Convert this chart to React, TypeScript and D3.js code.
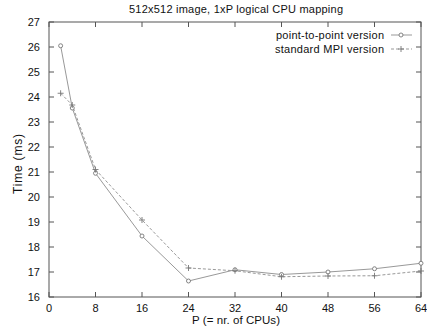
import React from "react";
import * as d3 from "d3";

const procs = [2, 4, 8, 16, 24, 32, 40, 48, 56, 64];
const pointToPoint = [26.05, 23.56, 20.95, 18.44, 16.64, 17.09, 16.9, 17.0, 17.13, 17.35];
const standardMPI = [24.15, 23.68, 21.1, 19.08, 17.16, 17.05, 16.81, 16.84, 16.85, 17.04];
const xTicks = [0, 8, 16, 24, 32, 40, 48, 56, 64];
const yTicks = [16, 17, 18, 19, 20, 21, 22, 23, 24, 25, 26, 27];
const seriesNames = ["point-to-point version", "standard MPI version"];
const title = "512x512 image, 1xP logical CPU mapping";

const W = 427, H = 330;
const m = { l: 49, r: 421, t: 22, b: 297 };

export default function App() {
  const x = d3.scaleLinear().domain([0, 64]).range([m.l, m.r]);
  const y = d3.scaleLinear().domain([16, 27]).range([m.b, m.t]);
  const line = d3.line<number>().x((_, i) => x(procs[i])).y((d) => y(d));
  const font = "'Liberation Sans', Arial, Helvetica, sans-serif";
  const axisColor = "#555";
  const lineColor = "#999";
  const markColor = "#777";
  const tl = 5;
  return (
    <svg width={W} height={H} style={{ position: "absolute", left: 0, top: 0, background: "#fff" }} fontFamily={font}>
      <rect x={m.l} y={m.t} width={m.r - m.l} height={m.b - m.t} fill="none" stroke={axisColor} strokeWidth={1} />
      {xTicks.map((t) => (
        <g key={"x" + t}>
          <line x1={x(t)} x2={x(t)} y1={m.b} y2={m.b - tl} stroke={axisColor} />
          <line x1={x(t)} x2={x(t)} y1={m.t} y2={m.t + tl} stroke={axisColor} />
          <text x={x(t)} y={m.b + 15} fontSize={11} textAnchor="middle" fill="#111">{t}</text>
        </g>
      ))}
      {yTicks.map((t) => (
        <g key={"y" + t}>
          <line x1={m.l} x2={m.l + tl} y1={y(t)} y2={y(t)} stroke={axisColor} />
          <line x1={m.r} x2={m.r - tl} y1={y(t)} y2={y(t)} stroke={axisColor} />
          <text x={m.l - 9} y={y(t) + 4} fontSize={11} textAnchor="end" fill="#111">{t}</text>
        </g>
      ))}
      <text x={236} y={13} fontSize={11} textAnchor="middle" fill="#111" textLength={214} lengthAdjust="spacing">{title}</text>
      <text x={236} y={324} fontSize={11.5} textAnchor="middle" fill="#111" textLength={88} lengthAdjust="spacing">P (= nr. of CPUs)</text>
      <text transform={`translate(22,164) rotate(-90)`} fontSize={12} textAnchor="middle" fill="#111" textLength={60} lengthAdjust="spacing">Time (ms)</text>

      <path d={line(pointToPoint) || ""} fill="none" stroke={lineColor} strokeWidth={1} />
      <path d={line(standardMPI) || ""} fill="none" stroke={lineColor} strokeWidth={1} strokeDasharray="3,2" />
      {pointToPoint.map((v, i) => (
        <circle key={"p" + i} cx={x(procs[i])} cy={y(v)} r={2} fill="#fff" stroke={markColor} strokeWidth={0.9} />
      ))}
      {standardMPI.map((v, i) => (
        <path key={"s" + i} d={`M${x(procs[i]) - 3},${y(v)}h6M${x(procs[i])},${y(v) - 3}v6`} stroke={markColor} strokeWidth={0.9} />
      ))}

      <text x={384} y={39} fontSize={11} textAnchor="end" fill="#111" textLength={108} lengthAdjust="spacing">{seriesNames[0]}</text>
      <line x1={391} x2={412} y1={35} y2={35} stroke={lineColor} />
      <circle cx={401} cy={35} r={2} fill="#fff" stroke={markColor} strokeWidth={0.9} />
      <text x={384} y={53} fontSize={11} textAnchor="end" fill="#111" textLength={109} lengthAdjust="spacing">{seriesNames[1]}</text>
      <line x1={391} x2={412} y1={49} y2={49} stroke={lineColor} strokeDasharray="3,2" />
      <path d="M398,49h6M401,46v6" stroke={markColor} strokeWidth={0.9} />
    </svg>
  );
}
